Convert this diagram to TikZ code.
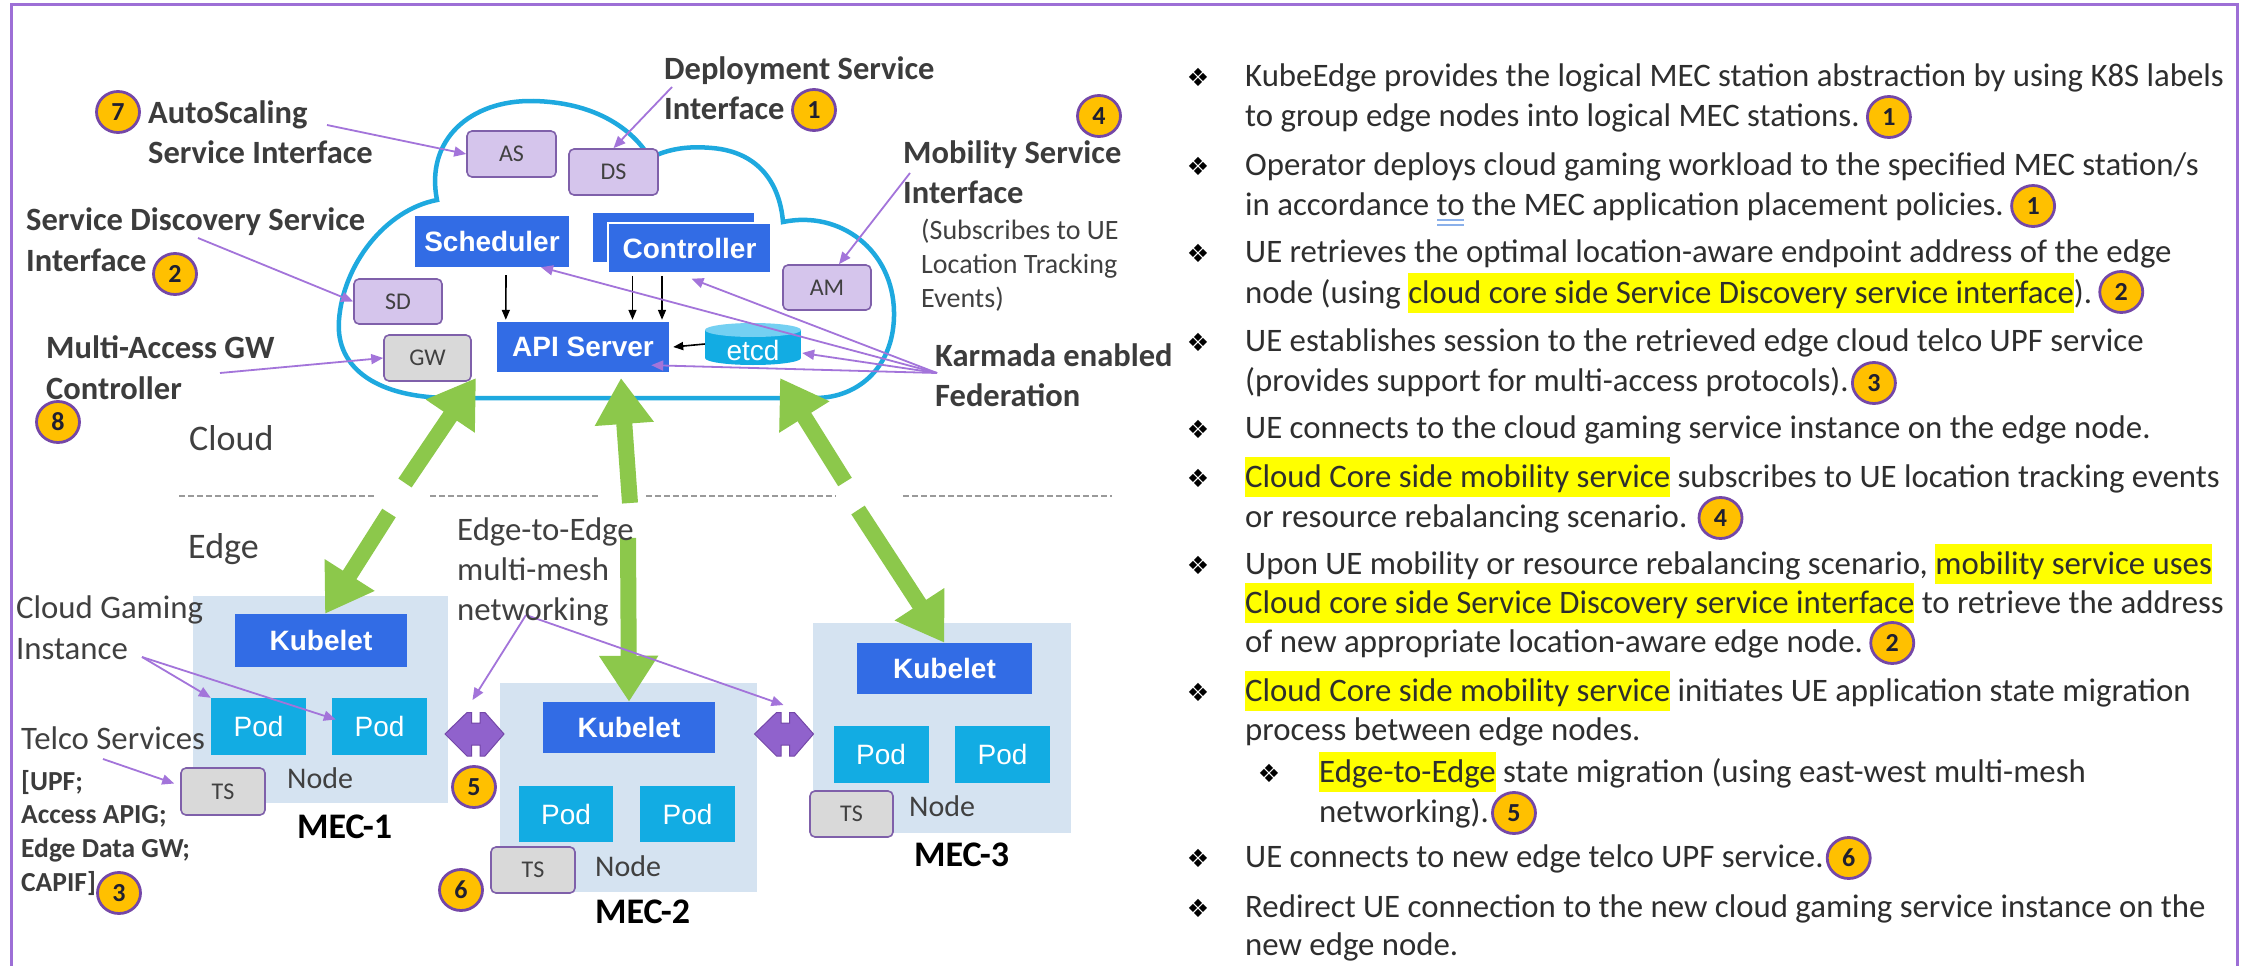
\documentclass[tikz,border=0pt]{standalone}
\usepackage{fontspec}
\setmainfont{Carlito}
\newfontfamily\arialf{Liberation Sans}
\newfontfamily\dejavu{DejaVu Sans}
\usetikzlibrary{arrows.meta,shapes.geometric,calc}
\definecolor{framec}{HTML}{9D6FD6}
\definecolor{cloudc}{HTML}{1EA9DF}
\definecolor{lavf}{HTML}{D5C5EC}
\definecolor{boxb}{HTML}{7F60AA}
\definecolor{grayf}{HTML}{D9D9D9}
\definecolor{kblue}{HTML}{326CE5}
\definecolor{pcyan}{HTML}{12ACE3}
\definecolor{ecap}{HTML}{74D0F2}
\definecolor{mecf}{HTML}{D5E3F1}
\definecolor{bgold}{HTML}{FFC000}
\definecolor{bpur}{HTML}{7447A8}
\definecolor{parc}{HTML}{A374DA}
\definecolor{grn}{HTML}{8CC84B}
\definecolor{lblc}{HTML}{3C3C3C}
\definecolor{bodyc}{HTML}{2E2E2E}
\definecolor{txtg}{HTML}{404040}
\definecolor{dashc}{HTML}{9A9A9A}
\definecolor{dblp}{HTML}{9062CC}
\definecolor{hly}{HTML}{FFFF00}
\definecolor{ulc}{HTML}{8AB0EA}
\definecolor{digc}{HTML}{202030}
\newcommand{\hlt}[1]{{\setlength{\fboxsep}{0pt}\colorbox{hly}{\rule[-10pt]{0pt}{40pt}#1}}}
\begin{document}
\begin{tikzpicture}[x=1pt,y=-1pt,
  lav/.style={draw=boxb, fill=lavf, rounded corners=5, line width=1.6, inner sep=0, text=txtg, font=\fontsize{24}{24}\selectfont},
  gry/.style={lav, fill=grayf},
  kbox/.style={fill=kblue, inner sep=0, text=white, font=\arialf\bfseries\fontsize{28}{28}\selectfont},
  pod/.style={fill=pcyan, inner sep=0, text=white, font=\arialf\fontsize{28}{28}\selectfont, minimum width=95, minimum height=57},
  mec/.style={fill=mecf, draw=none, inner sep=0},
  badge/.style={ellipse, draw=bpur, fill=bgold, line width=2.8, minimum width=43, minimum height=41, inner sep=0, text=digc, font=\bfseries\fontsize{26}{26}\selectfont},
  lbl/.style={anchor=base west, inner sep=0, text=lblc, font=\bfseries\fontsize{32.5}{40}\selectfont},
  reg/.style={anchor=base west, inner sep=0, text=txtg, font=\fontsize{32.8}{40}\selectfont},
  smt/.style={anchor=base west, inner sep=0, text=txtg, font=\fontsize{28}{34}\selectfont},
  smb/.style={anchor=base west, inner sep=0, text=lblc, font=\bfseries\fontsize{27.5}{34}\selectfont},
  bigt/.style={anchor=base west, inner sep=0, text=txtg, font=\fontsize{36}{40}\selectfont},
  nodet/.style={anchor=base west, inner sep=0, text=txtg, font=\fontsize{30}{30}\selectfont},
  mect/.style={anchor=base west, inner sep=0, text=black, font=\bfseries\fontsize{36}{36}\selectfont},
  rtx/.style={anchor=base west, inner sep=0, text=bodyc, font=\fontsize{32.8}{40}\selectfont},
  bul/.style={anchor=base, inner sep=0, text=black, font=\dejavu\fontsize{25}{25}\selectfont},
  parr/.style={draw=parc, line width=1.8, -{Triangle[length=12pt,width=10pt]}},
  barr/.style={draw=black, line width=1.6, -{Triangle[length=10pt,width=8pt]}},
  garr/.style={draw=grn, line width=16, -{Triangle[length=46pt,width=56pt]}}
]
\useasboundingbox (0,0) rectangle (2244,966);
\fill[white] (0,0) rectangle (2244,966);
\draw[framec, line width=3] (11,990) -- (11,5) -- (2237,5) -- (2237,990);

% cloud
\draw[cloudc, line width=4.5, fill=white] (451,398) .. controls (380,398) and (335,370) .. (339,320)
  .. controls (343,265) and (385,210) .. (437,200)
  .. controls (425,140) and (470,100) .. (533,101)
  .. controls (590,102) and (630,125) .. (650,158)
  .. controls (670,148) and (690,146) .. (712,148)
  .. controls (760,152) and (780,185) .. (783,222)
  .. controls (840,210) and (893,250) .. (894,312)
  .. controls (895,365) and (860,398) .. (815,398) -- cycle;

% cloud boxes
\node[lav, minimum width=89, minimum height=46] (as) at (511.5,154) {AS};
\node[lav, minimum width=89, minimum height=46] (ds) at (613.5,172) {DS};
\node[lav, minimum width=88, minimum height=45] (sd) at (398,301.5) {SD};
\node[lav, minimum width=88, minimum height=45] (am) at (827,287.5) {AM};
\node[gry, minimum width=87, minimum height=46] (gw) at (427.5,358) {GW};
\node[kbox, minimum width=154, minimum height=51] (sched) at (492,241.5) {Scheduler};
\node[kbox, draw=white, line width=1, minimum width=162, minimum height=50] (ctrlb) at (673,237) {};
\node[kbox, draw=white, line width=1.5, minimum width=163, minimum height=50] (ctrl) at (689.5,248) {Controller};
\node[kbox, minimum width=172, minimum height=50] (api) at (583,347) {API Server};
\fill[pcyan] (705,330) rectangle (801,358);
\fill[pcyan] (753,358) ellipse [x radius=48, y radius=7];
\fill[ecap] (753,330) ellipse [x radius=48, y radius=7];
\node[inner sep=0, minimum width=96, minimum height=42] (etcd) at (753,344) {};
\node[inner sep=0, text=white, font=\arialf\fontsize{28}{28}\selectfont] (etcdt) at (753,350) {etcd};

% black arrows
\draw[barr] ($(sched.south)+(14,8)$) -- ($(api.north west)+(9,-2)$);
\draw[barr] ($(ctrl.south)+(-57,2)$) -- ($(api.north)+(49.5,-2)$);
\draw[barr] ($(ctrl.south)+(-27.5,2)$) -- ($(api.north)+(79,-2)$);
\draw[barr] (etcd.west) -- ($(api.east)+(4,0)$);

% purple annotation arrows (cloud)
\coordinate (asS) at (327,125);
\coordinate (dsS) at (672,87);
\coordinate (sdS) at (198,238);
\coordinate (gwS) at (220,373);
\coordinate (amS) at (910,173);
\coordinate (kf) at (937,373);
\draw[parr] (asS) -- (as.west);
\draw[parr] (dsS) -- (ds.north);
\draw[parr] (sdS) -- (sd.west);
\draw[parr] (gwS) -- (gw.west);
\draw[parr] (amS) -- ($(am.north)+(12,0)$);
\draw[parr] (kf) -- ($(sched.south)+(49,0)$);
\draw[parr] (kf) -- ($(ctrl.south)+(2,5)$);
\draw[parr] (kf) -- ($(etcd.east)+(1,9)$);
\draw[parr] (kf) -- ($(api.south east)+(-18,-7)$);

% dashed separator
\foreach \a/\b in {179/374, 430/600, 646/836, 903/1112}
  \draw[dashc, line width=2.5, dash pattern=on 6pt off 3pt] (\a,496) -- (\b,496);

% MEC stations
\node[mec, minimum width=255, minimum height=207] (mec1) at (320.5,699.5) {};
\node[mec, minimum width=257, minimum height=209] (mec2) at (628.5,787.5) {};
\node[mec, minimum width=258, minimum height=210] (mec3) at (942,728) {};
\node[kbox, minimum width=172, minimum height=53] (k1) at (321,640.5) {Kubelet};
\node[kbox, minimum width=172, minimum height=51] (k2) at (629,727.5) {Kubelet};
\node[kbox, minimum width=175, minimum height=51] (k3) at (944.5,668.5) {Kubelet};
\node[pod] (p11) at (258.5,726.5) {Pod};
\node[pod] (p12) at (379.5,726.5) {Pod};
\node[pod, minimum width=94, minimum height=56] (p21) at (566,814) {Pod};
\node[pod, minimum width=95, minimum height=56] (p22) at (687.5,814) {Pod};
\node[pod] (p31) at (881,754.5) {Pod};
\node[pod] (p32) at (1002.5,754.5) {Pod};
\node[gry, minimum width=84, minimum height=47] (ts1) at (223,791.5) {TS};
\node[gry, minimum width=84, minimum height=46] (ts2) at (533,870) {TS};
\node[gry, minimum width=83, minimum height=46] (ts3) at (851.5,814) {TS};

% east-west double arrows
\foreach \dx/\nm in {0/d1, 309.5/d2} {
  \filldraw[fill=dblp, draw=bpur, line width=1] ({445+\dx},734) -- ({467+\dx},712.5) -- ({471.5+\dx},712.5) -- ({471.5+\dx},723) -- ({480+\dx},723) -- ({480+\dx},712.5) -- ({485+\dx},712.5) -- ({504+\dx},734) -- ({485+\dx},756) -- ({480+\dx},756) -- ({480+\dx},745) -- ({471.5+\dx},745) -- ({471.5+\dx},756) -- ({467+\dx},756) -- cycle;
  \coordinate (\nm) at ({475.5+\dx},712);
}

% green arrows
\coordinate (g1t) at (476,378); \coordinate (g1b) at (405,483);
\coordinate (g2t) at (621,378); \coordinate (g2b) at (630,503);
\coordinate (g3t) at (780,378); \coordinate (g3b) at (845,482);
\coordinate (g1c) at (389,513); \coordinate (g2c) at (628,538); \coordinate (g3c) at (858,510);
\draw[garr] (g1b) -- (g1t);
\draw[garr] (g2b) -- (g2t);
\draw[garr] (g3b) -- (g3t);
\draw[garr] (g1c) -- ($(k1.north)+(4,0)$);
\draw[garr] (g2c) -- (k2.north);
\draw[garr] (g3c) -- (k3.north);

% purple annotation arrows (edge)
\coordinate (nwS) at (526,615);
\coordinate (cgS) at (142,657);
\coordinate (tcS) at (103,759);
\draw[parr] (nwS) -- ($(d1)+(-3,-12)$);
\draw[parr] (nwS) -- ($(d2)+(-1.5,-7)$);
\draw[parr] (cgS) -- (p11.north west);
\draw[parr] (cgS) -- ($(p12.west)+(4,-7)$);
\draw[parr] (tcS) -- ($(ts1.west)+(-6,-8)$);

% left labels
\node[lbl] (tDep1) at (664,79) {Deployment Service};
\node[lbl] (tDep2) at (664,119) {Interface};
\node[badge] (b1a) at (814,110) {1};
\node[badge] (b7) at (118,112) {7};
\node[lbl] (tAS1) at (148,123) {AutoScaling};
\node[lbl] (tAS2) at (148,163) {Service Interface};
\node[lbl] (tSD1) at (26,230) {Service Discovery Service};
\node[lbl] (tSD2) at (26,271) {Interface};
\node[badge] (b2a) at (175,274) {2};
\node[lbl] (tGW1) at (46,358) {Multi-Access GW};
\node[lbl] (tGW2) at (46,399) {Controller};
\node[badge] (b8) at (58,422) {8};
\node[lbl] (tMo1) at (903,163) {Mobility Service};
\node[lbl] (tMo2) at (903,203) {Interface};
\node[badge] (b4a) at (1099,116) {4};
\node[smt] (tSub1) at (921,239) {(Subscribes to UE};
\node[smt] (tSub2) at (921,273) {Location Tracking};
\node[smt] (tSub3) at (921,307) {Events)};
\node[lbl] (tKa1) at (935,366) {Karmada enabled};
\node[lbl] (tKa2) at (935,406) {Federation};
\node[bigt] (tCloud) at (189,450) {Cloud};
\node[bigt] (tEdge) at (188,558) {Edge};
\node[reg] (tE2E1) at (457,540) {Edge-to-Edge};
\node[reg] (tE2E2) at (457,580) {multi-mesh};
\node[reg] (tE2E3) at (457,620) {networking};
\node[reg] (tCG1) at (16,618) {Cloud Gaming};
\node[reg] (tCG2) at (16,659) {Instance};
\node[reg] (tTel) at (21,749) {Telco Services};
\node[smb] (tU1) at (21,790) {[UPF;};
\node[smb] (tU2) at (21,823) {Access APIG;};
\node[smb] (tU3) at (21,857) {Edge Data GW;};
\node[smb] (tU4) at (21,891) {CAPIF]};
\node[badge] (b3a) at (119,893) {3};
\node[badge] (b5a) at (474,787) {5};
\node[badge] (b6a) at (461,890) {6};
\node[nodet] (n1) at (287,788) {Node};
\node[nodet] (n2) at (595,876) {Node};
\node[nodet] (n3) at (909,816) {Node};
\node[mect] (m1) at (297,838) {MEC-1};
\node[mect] (m2) at (595,923) {MEC-2};
\node[mect] (m3) at (914,866) {MEC-3};

% right text panel
\foreach \yy in {86,175,262,351,438,487,574,701,867,917}
  \node[bul] at (1198,\yy) {❖};
\node[bul] at (1269,782) {❖};
\node[rtx] (L1) at (1245,86) {KubeEdge provides the logical MEC station abstraction by using K8S labels};
\node[rtx] (L2) at (1245,126) {to group edge nodes into logical MEC stations.};
\node[badge] at ($(L2.base east)+(29,-9)$) {1};
\node[rtx] (L3) at (1245,175) {Operator deploys cloud gaming workload to the specified MEC station/s};
\node[rtx] (L4) at (1245,215) {in accordance to the MEC application placement policies.};
\node[badge] at ($(L4.base east)+(29,-9)$) {1};
\draw[ulc, line width=1.5] (1437,220) -- (1464,220) (1437,225) -- (1464,225);
\node[rtx] (L5) at (1245,262) {UE retrieves the optimal location-aware endpoint address of the edge};
\node[rtx] (L6) at (1245,303) {node (using \hlt{cloud core side Service Discovery service interface}).};
\node[badge] at ($(L6.base east)+(29,-11)$) {2};
\node[rtx] (L7) at (1245,351) {UE establishes session to the retrieved edge cloud telco UPF service};
\node[rtx] (L8) at (1245,391) {(provides support for multi-access protocols).};
\node[badge] at ($(L8.base east)+(25,-8)$) {3};
\node[rtx] (L9) at (1245,438) {UE connects to the cloud gaming service instance on the edge node.};
\node[rtx] (L10) at (1245,487) {\hlt{Cloud Core side mobility service} subscribes to UE location tracking events};
\node[rtx] (L11) at (1245,527) {or resource rebalancing scenario.};
\node[badge] at ($(L11.base east)+(33,-9)$) {4};
\node[rtx] (L12) at (1245,574) {Upon UE mobility or resource rebalancing scenario, \hlt{mobility service uses}};
\node[rtx] (L13) at (1245,613) {\hlt{Cloud core side Service Discovery service interface} to retrieve the address};
\node[rtx] (L14) at (1245,652) {of new appropriate location-aware edge node.};
\node[badge] at ($(L14.base east)+(29,-9)$) {2};
\node[rtx] (L15) at (1245,701) {\hlt{Cloud Core side mobility service} initiates UE application state migration};
\node[rtx] (L16) at (1245,740) {process between edge nodes.};
\node[rtx] (L17) at (1319,782) {\hlt{Edge-to-Edge} state migration (using east-west multi-mesh};
\node[rtx] (L18) at (1319,822) {networking).};
\node[badge] at ($(L18.base east)+(25,-9)$) {5};
\node[rtx] (L19) at (1245,867) {UE connects to new edge telco UPF service.};
\node[badge] at ($(L19.base east)+(25,-9)$) {6};
\node[rtx] (L20) at (1245,917) {Redirect UE connection to the new cloud gaming service instance on the};
\node[rtx] (L21) at (1245,955) {new edge node.};
\end{tikzpicture}
\end{document}
